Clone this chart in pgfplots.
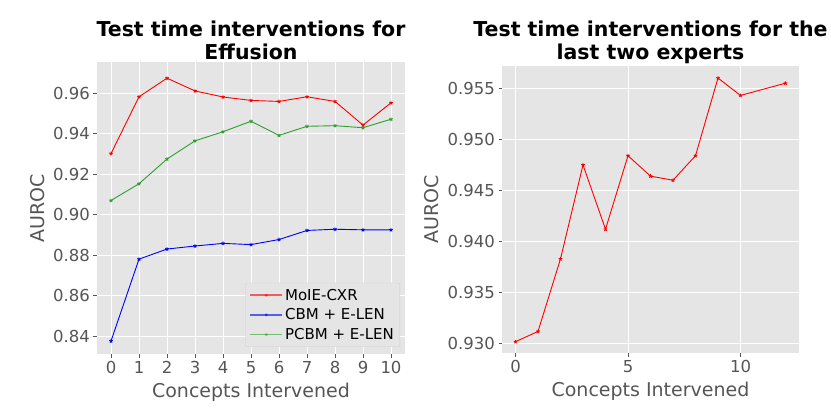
\documentclass[border=0pt]{standalone}
\usepackage{pgfplots}
\pgfplotsset{compat=1.18}
\usepackage{fontspec}
\setmainfont{DejaVu Sans}
\definecolor{ggbg}{HTML}{E5E5E5}
\definecolor{gglab}{HTML}{555555}
\definecolor{mplred}{HTML}{FF0000}
\definecolor{mplblue}{HTML}{0000FF}
\definecolor{mplgreen}{HTML}{2CA02C}
\begin{document}
\begin{tikzpicture}
\path[use as bounding box] (0bp,0bp) rectangle (831bp,419bp);
\pgfplotsset{
  ggstyle/.style={
    scale only axis,
    anchor=south west,
    axis background/.style={fill=ggbg},
    axis line style={draw=none},
    grid=major,
    major grid style={white, line width=0.8bp},
    tick style={gglab, line width=0.8bp},
    tick align=outside,
    major tick length=3.5bp,
    xtick pos=bottom, ytick pos=left,
    tick label style={font=\fontsize{16.5bp}{19bp}\selectfont, text=gglab},
    label style={font=\fontsize{19bp}{22bp}\selectfont, text=gglab},
    title style={font=\fontsize{20.5bp}{23bp}\selectfont\bfseries, align=center, inner sep=1bp, yshift=-4.5bp},
    /pgf/number format/assume math mode=true,
    every axis plot/.append style={line width=0.9bp, mark=star, mark size=1.9bp},
    xlabel={Concepts Intervened},
    ylabel={AUROC},
    xlabel style={yshift=-3bp},
    ylabel style={yshift=2bp},
  }
}
\begin{axis}[ggstyle,
  at={(97bp,65bp)}, width=308bp, height=292bp,
  xmin=-0.5, xmax=10.5, ymin=0.8311, ymax=0.9755,
  xtick={0,1,...,10},
  ytick={0.84,0.86,0.88,0.90,0.92,0.94,0.96},
  yticklabel style={/pgf/number format/.cd, fixed, fixed zerofill, precision=2},
  title={Test time interventions for\\Effusion},
  legend style={at={(0.984,0.024)}, anchor=south east, fill=ggbg, draw=black!18, rounded corners=2bp,
    font=\fontsize{15bp}{18bp}\selectfont, inner xsep=4bp, inner ysep=4bp, row sep=3bp},
  legend cell align=left,
  legend image code/.code={\draw[mark repeat=2, mark phase=2, #1, line width=1.6bp, draw opacity=0.6, mark size=1.2bp] plot coordinates {(0bp,0bp) (16bp,0bp) (32bp,0bp)};},
]
\addplot[mplred] coordinates {
(0,0.9302) (1,0.9583) (2,0.9675) (3,0.9612) (4,0.9582) (5,0.9565) (6,0.9560) (7,0.9583) (8,0.9560) (9,0.9443) (10,0.9553)};
\addlegendentry{MoIE-CXR}
\addplot[mplblue] coordinates {
(0,0.8375) (1,0.8780) (2,0.8830) (3,0.8845) (4,0.8858) (5,0.8852) (6,0.8877) (7,0.8922) (8,0.8928) (9,0.8925) (10,0.8925)};
\addlegendentry{CBM + E-LEN}
\addplot[mplgreen] coordinates {
(0,0.9070) (1,0.9153) (2,0.9275) (3,0.9365) (4,0.9410) (5,0.9462) (6,0.9392) (7,0.9437) (8,0.9440) (9,0.9430) (10,0.9472)};
\addlegendentry{PCBM + E-LEN}
\end{axis}
\begin{axis}[ggstyle,
  at={(502bp,66bp)}, width=297bp, height=287bp,
  xmin=-0.6, xmax=12.6, ymin=0.92909, ymax=0.95718,
  xtick={0,5,10},
  ytick={0.930,0.935,0.940,0.945,0.950,0.955},
  yticklabel style={/pgf/number format/.cd, fixed, fixed zerofill, precision=3},
  title={Test time interventions for the\\last two experts},
]
\addplot[mplred] coordinates {
(0,0.9302) (1,0.9312) (2,0.9383) (3,0.9475) (4,0.9412) (5,0.9484) (6,0.9464) (7,0.9460) (8,0.9484) (9,0.9560) (10,0.9543) (12,0.9555)};
\end{axis}
\end{tikzpicture}
\end{document}
